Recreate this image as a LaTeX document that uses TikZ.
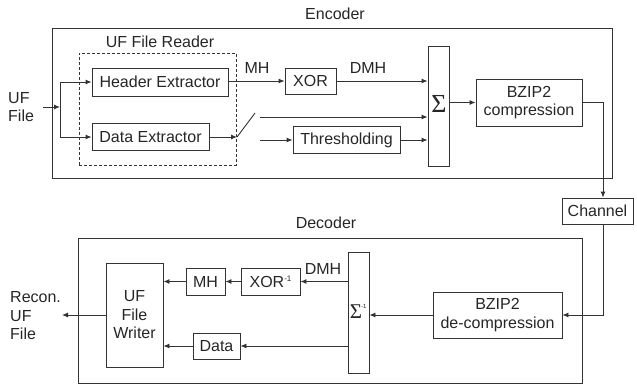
\documentclass[tikz,border=0pt]{standalone}
\usepackage{fontspec}
\setmainfont{Liberation Sans}
\newfontfamily\sigfont{Liberation Serif}
\usetikzlibrary{arrows.meta,calc}
\newcommand{\fs}{\fontsize{16}{18.5}\selectfont}
\newcommand{\supm}{{\fontsize{8}{8}\selectfont\raisebox{6pt}{-1}}}
\begin{document}
\begin{tikzpicture}[x=1pt,y=-1pt,
  every node/.style={font=\fs, text=black!85},
  blk/.style={draw=black!80, line width=0.9pt, inner sep=0pt, align=center},
  frame/.style={draw=black!80, line width=0.9pt, inner sep=0pt},
  dframe/.style={draw=black!80, line width=0.9pt, inner sep=0pt, dash pattern=on 3pt off 2pt},
  lbl/.style={inner sep=0pt},
  arr/.style={draw=black!80, line width=0.9pt, -{Latex[length=6pt,width=5pt]}},
  ln/.style={draw=black!80, line width=0.9pt}]
\useasboundingbox (0,0) rectangle (637,384);

% Encoder
\node[frame, minimum width=560pt, minimum height=150pt] (enc) at (332,103) {};
\node[lbl] (enclabel) at (335,14) {Encoder};
\node[dframe, minimum width=157pt, minimum height=112pt] (reader) at (157.5,109) {};
\node[lbl] (readerlabel) at (160,42) {UF File Reader};
\node[blk, minimum width=136pt, minimum height=28pt] (header) at (160,82) {Header Extractor};
\node[blk, minimum width=117pt, minimum height=27pt] (dataex) at (150.5,137) {Data Extractor};
\node[lbl, anchor=west, align=left] (uf) at (8,107) {UF\\File};
\coordinate (ufin) at (43,107);
\coordinate (j) at (60,107);
\draw[arr] (ufin) -- (j);
\draw[arr] (j) |- (header.west);
\draw[arr] (j) |- (dataex.west);

\node[blk, minimum width=51pt, minimum height=26pt] (xor) at (310.5,81) {XOR};
\node[lbl] (mhl) at (257,68) {MH};
\node[lbl] (dmhl) at (368,68) {DMH};
\draw[arr] (header.east |- xor.west) -- (xor.west);

\node[blk, minimum width=21pt, minimum height=120pt] (sigma) at (438.5,106) {};
\node[lbl, font=\sigfont\fontsize{26}{26}\selectfont] (sigmasym) at (439,104) {Σ};
\draw[arr] (xor.east) -- (xor.east -| sigma.west);

\coordinate (sw1) at (237,137);
\coordinate (sw2) at (255,113);
\draw[arr] (dataex.east) -- (sw1);
\draw[ln] (sw1) -- (sw2);
\coordinate (mid) at (260,117);
\draw[arr] (mid) -- (mid -| sigma.west);

\node[blk, minimum width=107pt, minimum height=27pt] (thr) at (346.5,140) {Thresholding};
\coordinate (thin) at (260,140);
\draw[arr] (thin) -- (thr.west);
\draw[arr] (thr.east) -- (thr.east -| sigma.west);

\node[blk, minimum width=106pt, minimum height=47pt] (bzip) at (529,102.5) {BZIP2\\compression};
\draw[arr] (sigma.east |- bzip.west) -- (bzip.west);

% Channel
\node[blk, minimum width=71pt, minimum height=26pt] (channel) at (597.5,211) {Channel};
\coordinate (cx) at (603,0);
\draw[arr] (bzip.east) -| (cx |- channel.north);

% Decoder
\node[frame, minimum width=504pt, minimum height=145pt] (dec) at (330,310.5) {};
\node[lbl] (declabel) at (326,223) {Decoder};
\node[blk, minimum width=129pt, minimum height=46pt] (bzipd) at (497.5,315) {BZIP2\\de-compression};
\draw[arr] (cx |- channel.south) |- (bzipd.east);
\node[blk, minimum width=21pt, minimum height=121pt] (sigmad) at (358.5,312.5) {};
\node[lbl, font=\sigfont\fontsize{21}{21}\selectfont] (sigmadsym) at (356,312) {Σ};
\node[lbl, font=\fontsize{6}{6}\selectfont, anchor=west] (sigmadsup) at (361,306) {-1};
\draw[arr] (bzipd.west) -- (bzipd.west -| sigmad.east);

\node[blk, minimum width=59pt, minimum height=27pt] (xorinv) at (270.5,281.5) {XOR\supm};
\node[lbl] (dmhd) at (323,269) {DMH};
\draw[arr] (xorinv.east -| sigmad.west) -- (xorinv.east);
\node[blk, minimum width=39pt, minimum height=27pt] (mh) at (205.5,281.5) {MH};
\draw[arr] (xorinv.west) -- (mh.east);
\node[blk, minimum width=57pt, minimum height=104pt] (writer) at (134.5,315) {UF\\File\\Writer};
\draw[arr] (mh.west) -- (mh.west -| writer.east);
\node[blk, minimum width=47pt, minimum height=26pt] (data) at (216.5,346) {Data};
\draw[arr] (data.east -| sigmad.west) -- (data.east);
\draw[arr] (data.west) -- (data.west -| writer.east);
\coordinate (out) at (62,315);
\draw[arr] (writer.west) -- (out);
\node[lbl, anchor=west, align=left] (recon) at (10,316) {Recon.\\UF\\File};
\end{tikzpicture}
\end{document}
